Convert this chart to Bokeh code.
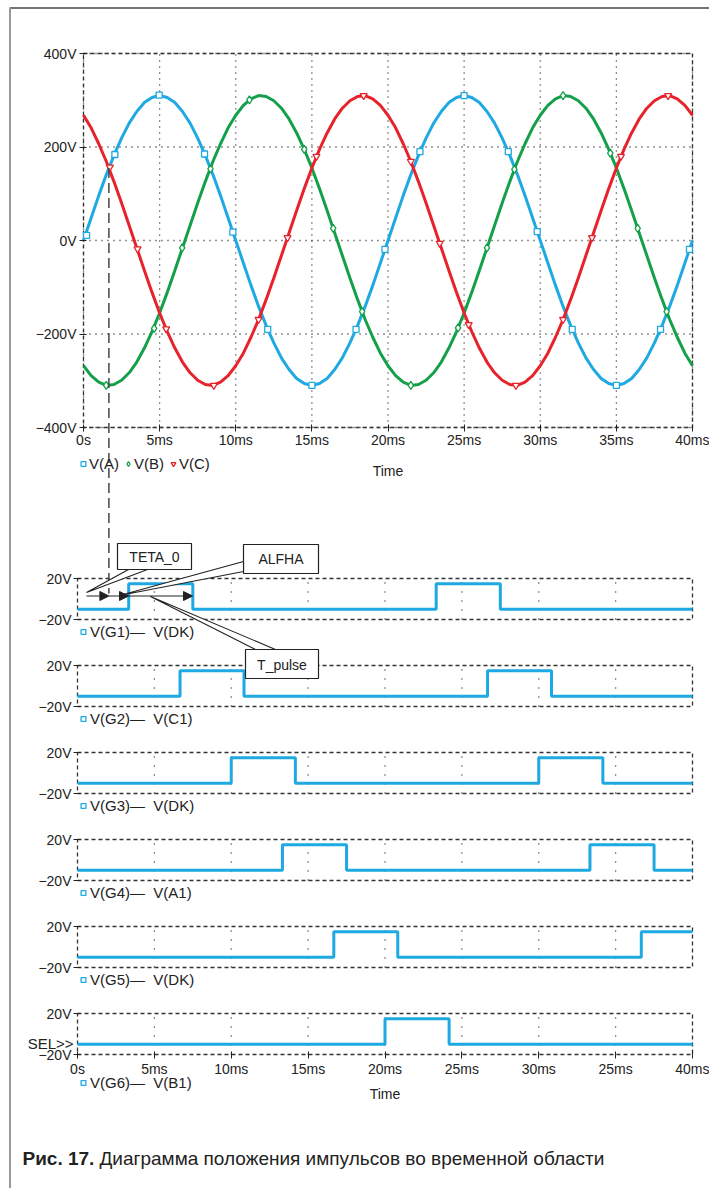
from bokeh.plotting import figure
from bokeh.models import (Range1d, FixedTicker, LinearAxis, Legend, LegendItem, Label, Arrow,
                          NormalHead, BoxAnnotation, PolyAnnotation)
from bokeh.embed import file_html
from bokeh.resources import INLINE

FONT = "Liberation Sans"
INK = "#222222"
BLUE = "#1EA9E2"
GREEN = "#14A04B"
RED = "#E8222B"

# ---------------- data: three-phase voltages (V), sampled every 0.5 ms ----------------
time_ms = [i * 0.5 for i in range(81)]
v_a = [0, 48, 96, 141, 182, 219, 251, 276, 295, 306, 310, 306, 295, 276, 251, 219, 182, 141, 96, 48,
       0, -48, -96, -141, -182, -219, -251, -276, -295, -306, -310, -306, -295, -276, -251, -219, -182, -141, -96, -48,
       0, 48, 96, 141, 182, 219, 251, 276, 295, 306, 310, 306, 295, 276, 251, 219, 182, 141, 96, 48,
       0, -48, -96, -141, -182, -219, -251, -276, -295, -306, -310, -306, -295, -276, -251, -219, -182, -141, -96, -48,
       0]
v_b = [-268, -289, -303, -310, -308, -299, -283, -260, -230, -195, -155, -111, -64, -16, 32, 80, 126, 169, 207, 241,
       268, 289, 303, 310, 308, 299, 283, 260, 230, 195, 155, 111, 64, 16, -32, -80, -126, -169, -207, -241,
       -268, -289, -303, -310, -308, -299, -283, -260, -230, -195, -155, -111, -64, -16, 32, 80, 126, 169, 207, 241,
       268, 289, 303, 310, 308, 299, 283, 260, 230, 195, 155, 111, 64, 16, -32, -80, -126, -169, -207, -241,
       -268]
v_c = [268, 241, 207, 169, 126, 80, 32, -16, -64, -111, -155, -195, -230, -260, -283, -299, -308, -310, -303, -289,
       -268, -241, -207, -169, -126, -80, -32, 16, 64, 111, 155, 195, 230, 260, 283, 299, 308, 310, 303, 289,
       268, 241, 207, 169, 126, 80, 32, -16, -64, -111, -155, -195, -230, -260, -283, -299, -308, -310, -303, -289,
       -268, -241, -207, -169, -126, -80, -32, 16, 64, 111, 155, 195, 230, 260, 283, 299, 308, 310, 303, 289,
       268]

# trace markers (ms, V)
mk_a_t = [0.2, 2.06, 4.97, 7.95, 9.81, 12.1, 15.0, 17.9, 19.8, 22.1, 25.0, 27.9, 29.8, 32.1, 35.0, 37.9, 39.8]
mk_a_v = [11, 184, 311, 185, 18, -190, -310, -190, -19, 190, 310, 190, 19, -190, -310, -190, -19]
mk_b_t = [1.49, 4.64, 6.48, 8.34, 10.9, 14.5, 16.4, 18.3, 21.5, 24.6, 26.5, 28.3, 31.5, 34.6, 36.4, 38.3]
mk_b_v = [-310, -188, -16, 153, 301, 195, 26, -152, -310, -187, -16, 152, 310, 187, 26, -152]
mk_c_t = [1.73, 3.55, 5.43, 8.56, 11.5, 13.4, 15.3, 18.4, 21.5, 23.4, 25.3, 28.4, 31.5, 33.4, 35.3, 38.4]
mk_c_v = [157, -18, -189, -310, -169, 6, 180, 310, 169, -6, -180, -310, -169, 6, 180, 310]

# ---------------- data: gate pulses (ms, V) ----------------
g1_t = [0, 3.33, 7.5, 23.33, 27.5, 40]
g1_v = [-10, 15, -10, 15, -10, -10]
g2_t = [0, 6.67, 10.83, 26.67, 30.83, 40]
g2_v = [-10, 15, -10, 15, -10, -10]
g3_t = [0, 10.0, 14.17, 30.0, 34.17, 40]
g3_v = [-10, 15, -10, 15, -10, -10]
g4_t = [0, 13.33, 17.5, 33.33, 37.5, 40]
g4_v = [-10, 15, -10, 15, -10, -10]
g5_t = [0, 16.67, 20.83, 36.67, 40]
g5_v = [-10, 15, -10, 15, 15]
g6_t = [0, 20.0, 24.17, 40]
g6_v = [-10, 15, -10, -10]
gate_labels = ["V(G1)—  V(DK)", "V(G2)—  V(C1)", "V(G3)—  V(DK)",
               "V(G4)—  V(A1)", "V(G5)—  V(DK)", "V(G6)—  V(B1)"]

x_ticks = [0, 5, 10, 15, 20, 25, 30, 35, 40]
top_x_labels = ["0s", "5ms", "10ms", "15ms", "20ms", "25ms", "30ms", "35ms", "40ms"]
bottom_x_labels = ["0s", "5ms", "10ms", "15ms", "20ms", "25ms", "30ms", "25ms", "40ms"]
top_y_ticks = [-400, -200, 0, 200, 400]
top_y_labels = ["−400V", "−200V", "0V", "200V", "400V"]
pulse_y_ticks = [-20, 20]
pulse_y_labels = ["−20V", "20V"]

# ---------------- layout (page pixels) ----------------
PX0, PX1 = 0, 709          # canvas left/right on the page
PY0, PY1 = 0, 1188         # canvas top/bottom on the page
TOP_L, TOP_R, TOP_T, TOP_B = 83, 692, 53, 427
PUL_L, PUL_R = 77, 692
PUL_TOPS = [578, 665, 752, 839, 926, 1013]
PUL_H = 41


def lin_range(p0, p1, v0, v1, q_start, q_end):
    k = (v1 - v0) / (p1 - p0)
    return Range1d(start=v0 + (q_start - p0) * k, end=v0 + (q_end - p0) * k)


x_ranges = {"tt": lin_range(TOP_L, TOP_R, 0, 40, PX0, PX1),
            "tp": lin_range(PUL_L, PUL_R, 0, 40, PX0, PX1)}
y_ranges = {"top": lin_range(TOP_T, TOP_B, 400, -400, PY1, PY0)}
for k, t in enumerate(PUL_TOPS):
    y_ranges["g%d" % (k + 1)] = lin_range(t, t + PUL_H, 20, -20, PY1, PY0)

p = figure(width=PX1 - PX0, height=PY1 - PY0,
           x_range=Range1d(PX0, PX1), y_range=Range1d(PY1, PY0),
           extra_x_ranges=x_ranges, extra_y_ranges=y_ranges,
           x_axis_location=None, y_axis_location=None,
           min_border=0, min_border_left=0, min_border_right=0, min_border_top=0, min_border_bottom=0,
           toolbar_location=None, output_backend="svg")
p.outline_line_color = None
p.background_fill_color = "white"
p.border_fill_color = "white"
p.grid.visible = False


def style_axis(ax):
    ax.axis_line_color = None
    ax.major_tick_line_color = INK
    ax.major_tick_in = 3
    ax.major_tick_out = 4
    ax.minor_tick_line_color = None
    ax.major_label_text_font = FONT
    ax.major_label_text_font_size = "14px"
    ax.major_label_text_color = INK
    ax.axis_label_text_font = FONT
    ax.axis_label_text_font_size = "14px"
    ax.axis_label_text_font_style = "normal"
    ax.axis_label_text_color = INK


def legend(items, left_px, center_y, standoff, spacing):
    lg = Legend(items=items, orientation="horizontal",
                location=(left_px - PX0, PY1 - center_y - 8.5),
                label_text_font=FONT, label_text_font_size="15px", label_text_color=INK,
                glyph_width=12, glyph_height=13, label_standoff=standoff, spacing=spacing,
                label_height=14, padding=0, margin=0,
                border_line_alpha=0, background_fill_alpha=0)
    p.add_layout(lg)


DOT = dict(line_color=INK, line_width=1.3)

# ======================= top panel =======================
TT = dict(x_range_name="tt", y_range_name="top")
ymin, ymax = min(top_y_ticks), max(top_y_ticks)
xmin, xmax = min(x_ticks), max(x_ticks)
p.segment(x0=x_ticks, y0=[ymin] * len(x_ticks), x1=x_ticks, y1=[ymax] * len(x_ticks),
          line_dash="1 5", **DOT, **TT)
p.segment(x0=[xmin] * len(top_y_ticks), y0=top_y_ticks, x1=[xmax] * len(top_y_ticks), y1=top_y_ticks,
          line_dash="1 5", **DOT, **TT)
p.quad(left=xmin, right=xmax, bottom=ymin, top=ymax, fill_color=None, line_color="#333333",
       line_dash="4 3", line_width=1.3, **TT)

p.line(time_ms, v_a, line_color=BLUE, line_width=3, **TT)
p.line(time_ms, v_b, line_color=GREEN, line_width=3, **TT)
p.line(time_ms, v_c, line_color=RED, line_width=3, **TT)
ma = p.scatter(mk_a_t, mk_a_v, marker="square", size=6, line_color=BLUE, fill_color="white", line_width=1.3, **TT)
mb = p.scatter(mk_b_t, mk_b_v, marker="diamond", size=8, line_color=GREEN, fill_color="white", line_width=1.3, **TT)
mc = p.scatter(mk_c_t, mk_c_v, marker="inverted_triangle", size=7, line_color=RED, fill_color="white",
               line_width=1.3, **TT)

ay = LinearAxis(x_range_name="tt", y_range_name="top", fixed_location=0, bounds=(ymin, ymax),
                ticker=FixedTicker(ticks=top_y_ticks),
                major_label_overrides=dict(zip(top_y_ticks, top_y_labels)))
style_axis(ay)
ay.major_label_standoff = 3
p.add_layout(ay, "left")
ax = LinearAxis(x_range_name="tt", y_range_name="top", fixed_location=ymin, bounds=(xmin, xmax),
                ticker=FixedTicker(ticks=x_ticks), axis_label="Time",
                major_label_overrides=dict(zip(x_ticks, top_x_labels)))
style_axis(ax)
ax.major_label_standoff = 0
ax.axis_label_standoff = 12
p.add_layout(ax, "below")

legend([LegendItem(label="V(A)", renderers=[ma]),
        LegendItem(label="V(B)", renderers=[mb]),
        LegendItem(label="V(C)", renderers=[mc])], 77, 463, -2, 3)

# ======================= pulse panels =======================
gates = [(g1_t, g1_v), (g2_t, g2_v), (g3_t, g3_v), (g4_t, g4_v), (g5_t, g5_v), (g6_t, g6_v)]
pmin, pmax = min(pulse_y_ticks), max(pulse_y_ticks)
inner = x_ticks[1:-1]
for k, ((gt, gv), lab) in enumerate(zip(gates, gate_labels)):
    rn = "g%d" % (k + 1)
    RR = dict(x_range_name="tp", y_range_name=rn)
    p.segment(x0=inner, y0=[pmin] * len(inner), x1=inner, y1=[pmax] * len(inner),
              line_dash="1 8", **DOT, **RR)
    p.quad(left=xmin, right=xmax, bottom=pmin, top=pmax, fill_color=None, line_color="#333333",
           line_dash="4 3", line_width=1.3, **RR)
    p.step(gt, gv, mode="after", line_color=BLUE, line_width=3, **RR)
    mk = p.scatter(gt, gv, marker="square", size=0, line_color=BLUE, fill_color="white", line_width=1.3, **RR)
    a = LinearAxis(x_range_name="tp", y_range_name=rn, fixed_location=0, bounds=(pmin, pmax),
                   ticker=FixedTicker(ticks=pulse_y_ticks),
                   major_label_overrides=dict(zip(pulse_y_ticks, pulse_y_labels)))
    style_axis(a)
    a.major_label_standoff = 2
    p.add_layout(a, "left")
    last = k == len(gates) - 1
    legend([LegendItem(label=lab, renderers=[mk])], 77,
           PUL_TOPS[k] + PUL_H + (28 if last else 12), 1, 6)
    if last:
        bx = LinearAxis(x_range_name="tp", y_range_name=rn, fixed_location=pmin, bounds=(xmin, xmax),
                        ticker=FixedTicker(ticks=x_ticks), axis_label="Time",
                        major_label_overrides=dict(zip(x_ticks, bottom_x_labels)))
        style_axis(bx)
        bx.major_label_standoff = 2
        bx.axis_label_standoff = 6
        p.add_layout(bx, "below")

# ======================= annotations (page-pixel coordinates) =======================
p.add_layout(Arrow(end=None, x_start=9.3, y_start=7.5, x_end=709, y_end=7.5, line_color="#444444", line_width=1.6))
p.add_layout(Arrow(end=None, x_start=9.5, y_start=7, x_end=9.5, y_end=1188, line_color="#999999", line_width=2))
p.add_layout(Arrow(end=None, x_start=108.4, y_start=167.5, x_end=108.4, y_end=593, line_color="#444444",
                   line_width=1.5, line_dash="10 5"))

BOX = dict(fill_color="white", fill_alpha=1, line_color=INK, line_width=1.2, line_alpha=1)
WEDGE = dict(fill_color="white", fill_alpha=1, line_color=INK, line_width=1.1, line_alpha=1)
TXT = dict(text_align="center", text_baseline="middle", text_font=FONT, text_font_size="14px", text_color=INK)

p.add_layout(BoxAnnotation(left=117, right=191, top=543, bottom=569, **BOX))
p.add_layout(BoxAnnotation(left=243, right=318, top=544, bottom=573, **BOX))
p.add_layout(BoxAnnotation(left=245, right=318, top=649, bottom=678, **BOX))
p.add_layout(PolyAnnotation(xs=[128, 147, 86], ys=[569, 569, 592], **WEDGE))
p.add_layout(PolyAnnotation(xs=[243, 243, 119], ys=[561, 571, 595], **WEDGE))
p.add_layout(PolyAnnotation(xs=[255, 275, 150], ys=[649, 649, 596], **WEDGE))
p.add_layout(Label(x=154, y=556, text="TETA_0", **TXT))
p.add_layout(Label(x=280.5, y=558.5, text="ALFHA", **TXT))
p.add_layout(Label(x=281.5, y=664, text="T_pulse", **TXT))

HEAD = dict(size=9, fill_color=INK, line_color=INK)
for xs, xe in [(86, 108.4), (108.4, 128), (128, 192)]:
    p.add_layout(Arrow(x_start=xs, y_start=595.5, x_end=xe, y_end=595.5, end=NormalHead(**HEAD),
                       line_color=INK, line_width=1.2))

p.add_layout(Label(x=73, y=1043, text="SEL>>", text_align="right", text_baseline="middle",
                   text_font=FONT, text_font_size="15px", text_color=INK))
p.add_layout(Label(x=22, y=1158, text="Рис. 17.", text_align="left", text_baseline="middle",
                   text_font=FONT, text_font_size="19px", text_font_style="bold", text_color=INK))
p.add_layout(Label(x=99, y=1158, text="Диаграмма положения импульсов во временной области",
                   text_align="left", text_baseline="middle",
                   text_font=FONT, text_font_size="19px", text_color=INK))

open("out.html", "w").write(file_html(p, INLINE))
